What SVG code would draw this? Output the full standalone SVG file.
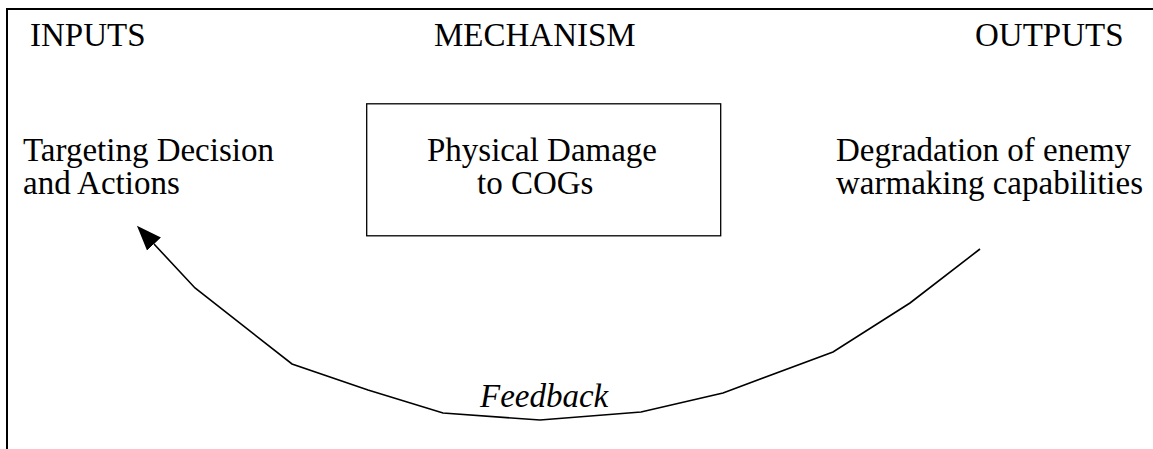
<svg xmlns="http://www.w3.org/2000/svg" width="1153" height="449" viewBox="0 0 1153 449">
  <style>
    .t { font-family: "Liberation Serif", "Times New Roman", serif; font-size: 33px; fill: #000; }
    .it { font-style: italic; }
    .frame { stroke: #000; stroke-width: 2; fill: none; }
    .box { stroke: #000; stroke-width: 1.3; fill: #fff; }
    .conn { stroke: #000; stroke-width: 1.6; fill: none; stroke-linejoin: miter; }
  </style>
  <defs>
    <marker id="arrow" markerUnits="userSpaceOnUse" markerWidth="30" markerHeight="24" refX="0" refY="10" orient="auto" viewBox="0 0 30 20">
      <path d="M0,0.5 L25,10 L0,19.5 z" fill="#000"/>
    </marker>
  </defs>
  <rect width="1153" height="449" fill="#fff"/>
  <g id="frame">
    <line class="frame" x1="6" y1="9" x2="1153" y2="9"/>
    <line class="frame" x1="7" y1="8" x2="7" y2="449"/>
  </g>
  <g id="headings">
    <text class="t" x="30" y="46">INPUTS</text>
    <text class="t" x="434" y="46">MECHANISM</text>
    <text class="t" x="975" y="46">OUTPUTS</text>
  </g>
  <g id="node-inputs">
    <text class="t" x="23" y="161">Targeting Decision</text>
    <text class="t" x="23" y="194">and Actions</text>
  </g>
  <g id="node-mechanism">
    <rect class="box" x="366.7" y="103.8" width="354" height="132"/>
    <text class="t" x="427" y="161">Physical Damage</text>
    <text class="t" x="477" y="194">to COGs</text>
  </g>
  <g id="node-outputs">
    <text class="t" x="836" y="161">Degradation of enemy</text>
    <text class="t" x="836" y="194">warmaking capabilities</text>
  </g>
  <g id="connectors">
    <polyline class="conn" marker-end="url(#arrow)" points="980,249 910,303 833,352 723,393 641,412 540,420 443,413 368,390 292,364 195,288 154,244"/>
    <text class="t it" x="480" y="407">Feedback</text>
  </g>
</svg>
